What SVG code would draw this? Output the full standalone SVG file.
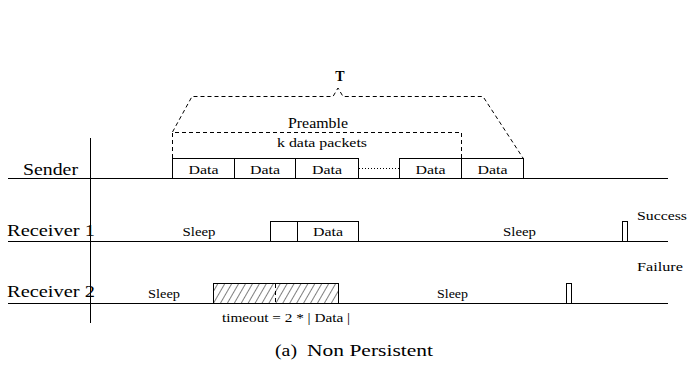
<svg xmlns="http://www.w3.org/2000/svg" width="688" height="365" viewBox="0 0 688 365">
<style>
text{font-family:"Liberation Serif","Times New Roman","DejaVu Serif",serif;fill:#000}
.ln{stroke:#000;stroke-width:1;fill:none}
.bx{stroke:#000;stroke-width:1;fill:#fff}
.ds{stroke:#000;stroke-width:1;fill:none;stroke-dasharray:4,3}
.dt{stroke:#000;stroke-width:1;fill:none;stroke-dasharray:1,2}
.lbl{font-size:16px}
.d{font-size:13px;text-anchor:middle}
.s{font-size:12.5px}
</style>
<defs>
<pattern id="hatch" patternUnits="userSpaceOnUse" width="6" height="6" patternTransform="rotate(30)">
<line x1="0" y1="0" x2="0" y2="6" stroke="#000" stroke-width="1"/>
</pattern>
</defs>
<g id="axis">
<line class="ln" x1="90.5" y1="138" x2="90.5" y2="323"/>
</g>
<g id="sender">
<line class="ln" x1="8" y1="178.5" x2="668" y2="178.5"/>
<text class="lbl" x="23" y="175" textLength="55" lengthAdjust="spacingAndGlyphs">Sender</text>
<rect class="bx" x="172.5" y="158.5" width="62" height="20"/>
<rect class="bx" x="234.5" y="158.5" width="61" height="20"/>
<rect class="bx" x="295.5" y="158.5" width="63" height="20"/>
<rect class="bx" x="399.5" y="158.5" width="62" height="20"/>
<rect class="bx" x="461.5" y="158.5" width="62" height="20"/>
<text class="d" x="203.5" y="174" textLength="30" lengthAdjust="spacingAndGlyphs">Data</text>
<text class="d" x="265" y="174" textLength="30" lengthAdjust="spacingAndGlyphs">Data</text>
<text class="d" x="327" y="174" textLength="30" lengthAdjust="spacingAndGlyphs">Data</text>
<text class="d" x="430.5" y="174" textLength="30" lengthAdjust="spacingAndGlyphs">Data</text>
<text class="d" x="492.5" y="174" textLength="30" lengthAdjust="spacingAndGlyphs">Data</text>
</g>
<g id="connectors">
<line class="dt" x1="359" y1="168.5" x2="399" y2="168.5"/>
<path class="ds" d="M172.5,158 V132.5 H461.5 V158"/>
<path class="ds" d="M172.5,132 L192,96.5 H333 L338,88 L343,96.5 H483 L523,158"/>
</g>
<g id="labels">
<text x="340" y="80.5" font-size="14" font-weight="bold" text-anchor="middle">T</text>
<text x="288" y="128" font-size="15" textLength="60" lengthAdjust="spacingAndGlyphs">Preamble</text>
<text x="277" y="147" font-size="13.5" textLength="90" lengthAdjust="spacingAndGlyphs">k data packets</text>
</g>
<g id="receiver1">
<line class="ln" x1="8" y1="241.5" x2="668" y2="241.5"/>
<text class="lbl" x="7" y="235.5" textLength="88" lengthAdjust="spacingAndGlyphs">Receiver 1</text>
<rect class="bx" x="270.5" y="221.5" width="27" height="20"/>
<rect class="bx" x="297.5" y="221.5" width="61" height="20"/>
<text class="d" x="328" y="236" textLength="30" lengthAdjust="spacingAndGlyphs">Data</text>
<text class="s" x="182.5" y="235.5" textLength="33" lengthAdjust="spacingAndGlyphs">Sleep</text>
<text class="s" x="503" y="235.5" textLength="33" lengthAdjust="spacingAndGlyphs">Sleep</text>
<rect class="bx" x="622.5" y="221.5" width="5" height="20"/>
<text x="637" y="220" font-size="13.5" textLength="50" lengthAdjust="spacingAndGlyphs">Success</text>
</g>
<g id="receiver2">
<line class="ln" x1="8" y1="303.5" x2="668" y2="303.5"/>
<text class="lbl" x="7" y="297" textLength="88" lengthAdjust="spacingAndGlyphs">Receiver 2</text>
<rect x="213.5" y="283.5" width="125" height="20" fill="url(#hatch)" stroke="#000"/>
<line class="ds" x1="275.5" y1="284" x2="275.5" y2="303" stroke-dasharray="3,3"/>
<text class="s" x="148" y="297.5" textLength="32" lengthAdjust="spacingAndGlyphs">Sleep</text>
<text class="s" x="437" y="297.5" textLength="31" lengthAdjust="spacingAndGlyphs">Sleep</text>
<rect class="bx" x="566.5" y="283.5" width="5" height="20"/>
<text x="637" y="270.5" font-size="13.5" textLength="46" lengthAdjust="spacingAndGlyphs">Failure</text>
<text x="222" y="321.5" font-size="12" textLength="128" lengthAdjust="spacingAndGlyphs">timeout = 2 * | Data |</text>
</g>
<g id="caption">
<text x="275" y="356" font-size="16.5" textLength="22" lengthAdjust="spacingAndGlyphs">(a)</text>
<text x="307" y="356" font-size="16.5" textLength="126" lengthAdjust="spacingAndGlyphs">Non Persistent</text>
</g>
</svg>
